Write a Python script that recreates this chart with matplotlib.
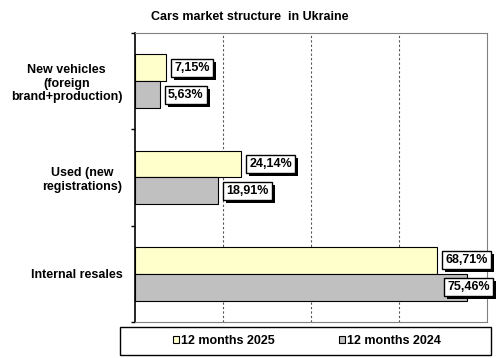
import numpy as np
import matplotlib.pyplot as plt
from matplotlib.patches import Rectangle

plt.rcParams['font.family'] = ['Liberation Sans', 'DejaVu Sans']
plt.rcParams['font.weight'] = 'bold'

# Datos
categorias = ['New vehicles\n(foreign\nbrand+production)', 'Used (new\nregistrations)', 'Internal resales']
serie_2025 = [7.15, 24.14, 68.71]
serie_2024 = [5.63, 18.91, 75.46]
etiquetas_2025 = ['7,15%', '24,14%', '68,71%']
etiquetas_2024 = ['5,63%', '18,91%', '75,46%']
nombres = ['12 months 2025', '12 months 2024']

col_2025 = '#FFFFCC'
col_2024 = '#C0C0C0'

W, H = 500, 358
fig = plt.figure(figsize=(W / 100, H / 100), dpi=100)
ax = fig.add_axes([0.27, 0.1006, 0.704, 0.8072])

y = np.arange(len(categorias))
alto = 0.28
b1 = ax.barh(y - alto / 2, serie_2025, height=alto, color=col_2025, edgecolor='black', linewidth=0.8, zorder=3)
b2 = ax.barh(y + alto / 2, serie_2024, height=alto, color=col_2024, edgecolor='black', linewidth=0.8, zorder=3)

ax.set_xlim(0, 80)
ax.set_ylim(2.5, -0.5)
ax.set_xticks([20, 40, 60])
ax.tick_params(axis='x', length=0, labelbottom=False)
ax.grid(axis='x', linestyle=(0, (2, 2)), color='#555555', linewidth=0.8, zorder=1)

ax.set_yticks(y)
ax.set_yticklabels(categorias, fontsize=9, fontweight='bold')
ax.tick_params(axis='y', which='major', length=0, pad=9)
ax.set_yticks([-0.5, 0.5, 1.5, 2.5], minor=True)
ax.tick_params(axis='y', which='minor', length=3, width=1, color='black', direction='out')
for lab in ax.get_yticklabels():
    lab.set_multialignment('center')

for lado in ['top', 'right', 'bottom']:
    ax.spines[lado].set_color('#808080')
ax.spines['left'].set_color('black')
ax.spines['left'].set_linewidth(1.2)

fig.text(0.5, 0.952, 'Cars market structure  in Ukraine', ha='center', va='center', fontsize=9, fontweight='bold')

# Etiquetas con sombra
fig.canvas.draw()
renderer = fig.canvas.get_renderer()
limite = 493

def etiqueta(valor, ypos, texto):
    bx = dict(boxstyle='square,pad=0.25', facecolor='white', edgecolor='black', linewidth=1.0)
    px, py = ax.transData.transform((valor, ypos))
    px += 8
    t = fig.text(px / W, py / H, texto, fontsize=9, fontweight='bold', va='center', ha='left', bbox=bx, zorder=10)
    fig.canvas.draw()
    ext = t.get_bbox_patch().get_window_extent(renderer)
    if ext.x1 > limite:
        px -= ext.x1 - limite
        t.set_x(px / W)
        fig.canvas.draw()
        ext = t.get_bbox_patch().get_window_extent(renderer)
    sombra = Rectangle(((ext.x0 + 3) / W, (ext.y0 - 3) / H), ext.width / W, ext.height / H,
                       transform=fig.transFigure, facecolor='black', edgecolor='none', zorder=9)
    fig.patches.append(sombra)

for i in range(len(categorias)):
    etiqueta(serie_2025[i], y[i] - alto / 2, etiquetas_2025[i])
    etiqueta(serie_2024[i], y[i] + alto / 2, etiquetas_2024[i])

# Leyenda
marco = Rectangle((120 / W, 3 / H), 371 / W, 28 / H, transform=fig.transFigure,
                  facecolor='white', edgecolor='black', linewidth=1.0)
fig.patches.append(marco)
leg = fig.legend([b1, b2], nombres, loc='center', bbox_to_anchor=(307 / W, 17 / H), ncol=2,
                 frameon=False, handlelength=0.45, handleheight=0.45, handletextpad=0.15,
                 columnspacing=5.2, prop={'weight': 'bold', 'size': 9})

fig.savefig('out.png', dpi=100)
